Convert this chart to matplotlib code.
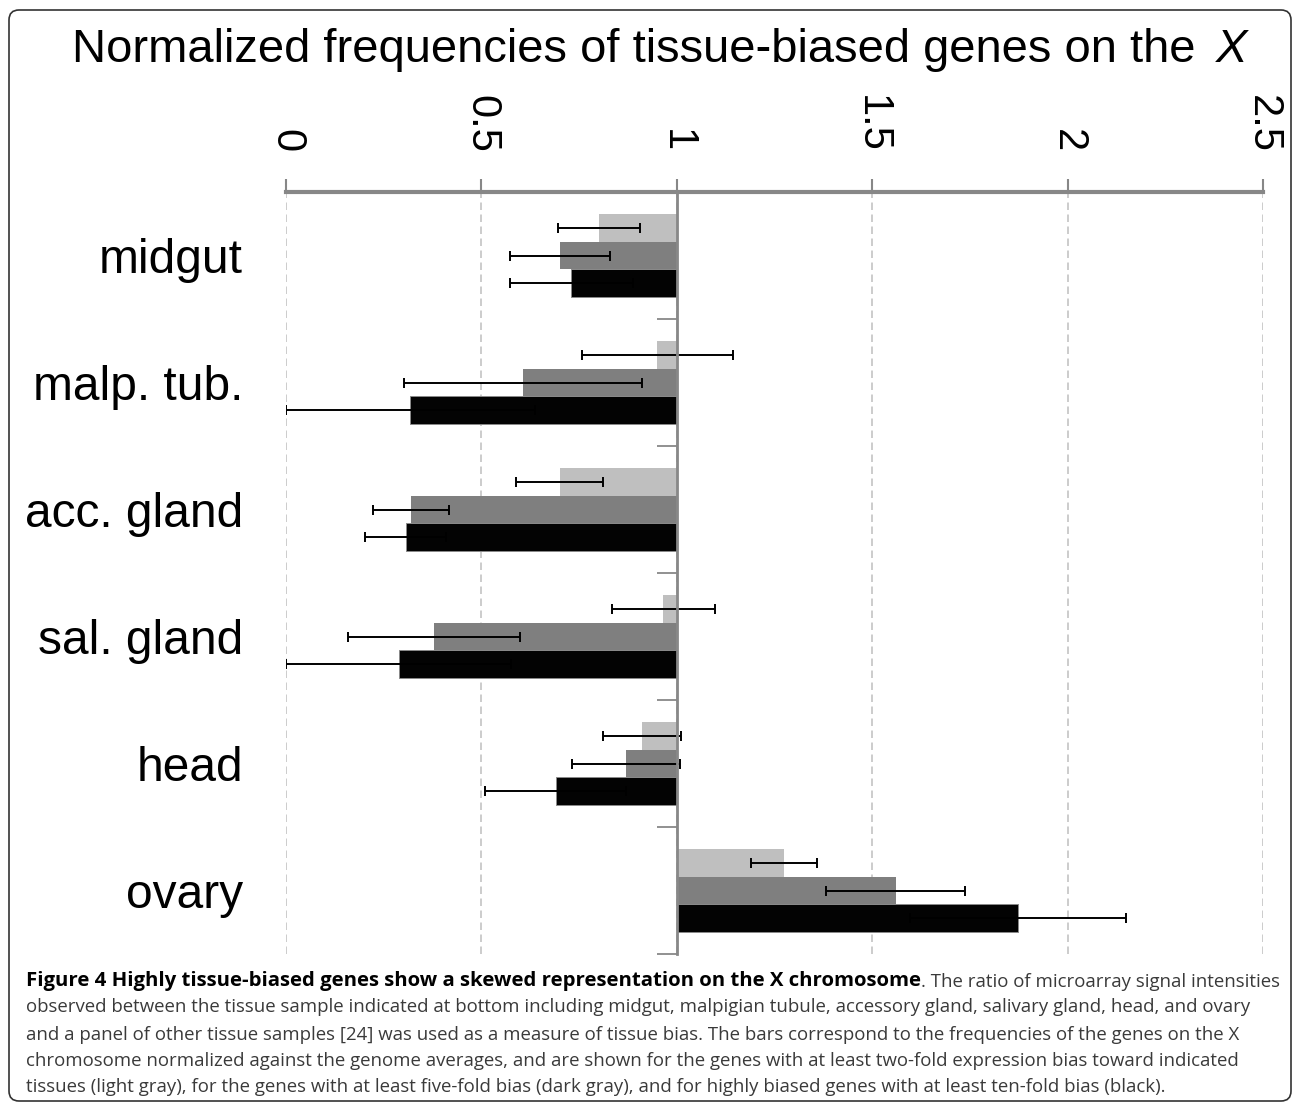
import matplotlib
matplotlib.use("Agg")
import matplotlib.pyplot as plt
from matplotlib.patches import FancyBboxPatch
import numpy as np

# ---------------- data ----------------
categories = ["midgut", "malp. tub.", "acc. gland", "sal. gland", "head", "ovary"]
two_fold = [0.80, 0.95, 0.70, 0.965, 0.91, 1.275]
two_fold_err = [0.105, 0.193, 0.111, 0.132, 0.100, 0.085]
five_fold = [0.70, 0.606, 0.32, 0.378, 0.87, 1.56]
five_fold_err = [0.128, 0.304, 0.098, 0.220, 0.138, 0.178]
ten_fold = [0.73, 0.318, 0.306, 0.288, 0.69, 1.873]
ten_fold_err = [0.158, 0.318, 0.103, 0.288, 0.180, 0.277]
x_ticks = [0, 0.5, 1, 1.5, 2, 2.5]
x_tick_labels = ["0", "0.5", "1", "1.5", "2", "2.5"]
baseline = 1.0

title_text = "Normalized frequencies of tissue-biased genes on the"
title_italic = "X"
caption_bold = "Figure 4 Highly tissue-biased genes show a skewed representation on the X chromosome"
caption_lines = [
    ". The ratio of microarray signal intensities",
    "observed between the tissue sample indicated at bottom including midgut, malpigian tubule, accessory gland, salivary gland, head, and ovary",
    "and a panel of other tissue samples [24] was used as a measure of tissue bias. The bars correspond to the frequencies of the genes on the X",
    "chromosome normalized against the genome averages, and are shown for the genes with at least two-fold expression bias toward indicated",
    "tissues (light gray), for the genes with at least five-fold bias (dark gray), and for highly biased genes with at least ten-fold bias (black).",
]

W, H = 1293, 1103
fig = plt.figure(figsize=(W / 100, H / 100), dpi=100)
renderer = fig.canvas.get_renderer()


def fit_size(txt, target_px):
    """Scale a text's font size so that its rendered width equals target_px."""
    txt.set_fontsize(10)
    w = txt.get_window_extent(renderer=renderer).width
    txt.set_fontsize(10 * target_px / w)
    return 10 * target_px / w


ax = fig.add_axes([286 / W, 1 - 954 / H, 977 / W, 762 / H])
ax.set_xlim(0, 2.5)
ax.set_ylim(5.5, -0.5)

y = np.arange(len(categories))
h = 0.22
series = [
    (two_fold, two_fold_err, "#bfbfbf", "none", -h),
    (five_fold, five_fold_err, "#7f7f7f", "none", 0.0),
    (ten_fold, ten_fold_err, "#030303", "#8a8a8a", h),
]
for vals, errs, col, ec, off in series:
    vals = np.asarray(vals)
    ax.barh(y + off, vals - baseline, left=baseline, height=h, color=col,
            edgecolor=ec, linewidth=0.7, zorder=2)
    ax.errorbar(vals, y + off, xerr=errs, fmt="none", ecolor="black",
                elinewidth=1.4, capsize=3.6, capthick=1.4, zorder=3)

# grid
ax.set_xticks(x_ticks)
ax.set_xticklabels(x_tick_labels)
ax.set_axisbelow(True)
ax.grid(axis="x", color="#c4c4c4", linestyle=(0, (4.5, 2.7)), linewidth=1.2)
ax.grid(axis="y", visible=False)

# top axis
ax.xaxis.tick_top()
for s in ["left", "right", "bottom"]:
    ax.spines[s].set_visible(False)
ax.spines["top"].set_color("#878787")
ax.spines["top"].set_linewidth(3.0)
ax.tick_params(axis="x", which="major", top=True, bottom=False, labeltop=True,
               labelbottom=False, length=9.4, width=1.5, color="#878787",
               pad=19, labelsize=30, labelrotation=-90)
for lab in ax.get_xticklabels():
    lab.set_fontfamily("Liberation Sans")

# category labels
ax.set_yticks(y)
ax.set_yticklabels(categories)
ax.tick_params(axis="y", which="major", length=0, pad=31, labelsize=34.5)
for lab in ax.get_yticklabels():
    lab.set_fontfamily("Liberation Sans")

# vertical baseline axis with category separators
ax2 = ax.twinx()
ax2.set_ylim(ax.get_ylim())
for s in ["top", "right", "bottom"]:
    ax2.spines[s].set_visible(False)
ax2.spines["left"].set_position(("data", baseline))
ax2.spines["left"].set_color("#888888")
ax2.spines["left"].set_linewidth(2.0)
ax2.yaxis.set_ticks_position("left")
ax2.set_yticks(np.arange(-0.5, len(categories) + 0.5, 1.0))
ax2.tick_params(axis="y", which="major", length=14.4, width=1.3,
                color="#888888", labelleft=False, labelright=False, direction="out")
ax2.patch.set_visible(False)

# title
t1 = fig.text(72 / W, 1 - 62 / H, title_text, fontsize=34,
              family="Liberation Sans", va="baseline", ha="left")
title_fs = fit_size(t1, 1200 - 72)
fig.text(1216 / W, 1 - 62 / H, title_italic, fontsize=title_fs,
         family="Liberation Sans", style="italic", va="baseline", ha="left")

# caption
cap_x = 26 / W
baselines = [985.7, 1012.5, 1039.5, 1065.7, 1091.7]
reg_color = "#3a3a3a"
tb = fig.text(cap_x, 1 - baselines[0] / H, caption_bold, fontsize=13,
              family="Open Sans", weight="bold", color="black", va="baseline")
fit_size(tb, 922 - 26)
reg_texts = []
for line, yb in zip(caption_lines[1:], baselines[1:]):
    reg_texts.append(fig.text(cap_x, 1 - yb / H, line, fontsize=13,
                              family="Open Sans", color=reg_color,
                              va="baseline", ha="left"))
reg_fs = fit_size(reg_texts[0], 1252 - 26)
for t in reg_texts[1:]:
    t.set_fontsize(reg_fs)
ax.annotate(caption_lines[0], xy=(1, 0), xycoords=tb, fontsize=reg_fs,
            family="Open Sans", color=reg_color, va="bottom", ha="left",
            annotation_clip=False)

# border
border = FancyBboxPatch((9 / 100, 2 / 100), (1291 - 9) / 100, (1101 - 10) / 100,
                        boxstyle="round,pad=0,rounding_size=0.1",
                        transform=fig.dpi_scale_trans, fill=False,
                        edgecolor="#333333", linewidth=1.2)
fig.patches.append(border)

fig.savefig("out.png", dpi=100)
